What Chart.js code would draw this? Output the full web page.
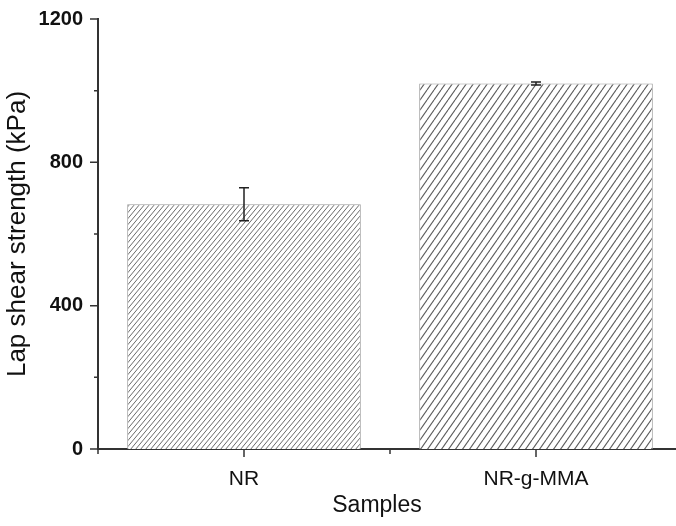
<!DOCTYPE html>
<html><head><meta charset="utf-8">
<script src="https://cdn.jsdelivr.net/npm/chart.js@4"></script>
<style>
html,body{margin:0;padding:0;background:#fff;overflow:hidden;width:676px;height:526px}
#wrap{width:682px;height:526px}
</style></head>
<body><div id="wrap"><canvas id="c" width="682" height="526"></canvas></div>
<script>
const categories = ['NR', 'NR-g-MMA'];
const strengths = [683, 1020];
const errors = [46, 4];
const yMajorTicks = [0, 400, 800, 1200];
const yMinorTicks = [200, 600, 1000];
const xMinorTicks = [-0.5, 0.5];
const yTitle = 'Lap shear strength (kPa)';
const xTitle = 'Samples';

const FONT = "'Liberation Sans', Arial, Helvetica, sans-serif";
const canvas = document.getElementById('c');
const ctx0 = canvas.getContext('2d');

function hatch(period, rise, color, lw) {
  const t = document.createElement('canvas');
  t.width = period; t.height = rise;
  const g = t.getContext('2d');
  g.fillStyle = '#fff'; g.fillRect(0, 0, period, rise);
  g.strokeStyle = color; g.lineWidth = lw;
  for (const dx of [-period, 0, period]) {
    g.beginPath(); g.moveTo(dx, rise); g.lineTo(dx + period, 0); g.stroke();
  }
  return ctx0.createPattern(t, 'repeat');
}

const decor = {
  id: 'decor',
  afterDatasetsDraw(chart) {
    const { ctx, scales: { y } } = chart;
    const meta = chart.getDatasetMeta(0);
    ctx.save();
    ctx.strokeStyle = '#222'; ctx.lineWidth = 1.5;
    meta.data.forEach((bar, i) => {
      const v = strengths[i], e = errors[i];
      const yt = y.getPixelForValue(v + e), yb = y.getPixelForValue(v - e);
      const cx = bar.x, hw = 5;
      ctx.beginPath();
      ctx.moveTo(cx, yt); ctx.lineTo(cx, yb);
      ctx.moveTo(cx - hw, yt); ctx.lineTo(cx + hw, yt);
      ctx.moveTo(cx - hw, yb); ctx.lineTo(cx + hw, yb);
      ctx.stroke();
    });
    ctx.restore();
  },
  afterDraw(chart) {
    const { ctx, chartArea: a, scales: { x, y } } = chart;
    ctx.save();
    ctx.strokeStyle = '#333'; ctx.lineWidth = 1.5;
    ctx.beginPath();
    yMajorTicks.forEach(v => { const p = y.getPixelForValue(v); ctx.moveTo(a.left - 8, p); ctx.lineTo(a.left, p); });
    yMinorTicks.forEach(v => { const p = y.getPixelForValue(v); ctx.moveTo(a.left - 4, p); ctx.lineTo(a.left, p); });
    categories.forEach((c, i) => { const p = x.getPixelForValue(i); ctx.moveTo(p, a.bottom); ctx.lineTo(p, a.bottom + 8); });
    xMinorTicks.forEach(v => { const p = x.getPixelForValue(v); ctx.moveTo(p, a.bottom); ctx.lineTo(p, a.bottom + 5); });
    ctx.stroke();
    ctx.fillStyle = '#111';
    ctx.font = '23px ' + FONT;
    ctx.textAlign = 'center'; ctx.textBaseline = 'middle';
    ctx.fillText(xTitle, 377, 506);
    ctx.restore();
  }
};

new Chart(canvas, {
  type: 'bar',
  data: {
    labels: categories,
    datasets: [{
      data: strengths,
      backgroundColor: [hatch(5, 6, '#6a6a6a', 1.0), hatch(7, 10, '#5a5a5a', 1.1)],
      borderColor: '#9a9a9a',
      borderWidth: 1,
      barPercentage: 0.8,
      categoryPercentage: 1.0
    }]
  },
  options: {
    responsive: false,
    animation: false,
    events: [],
    layout: { padding: { top: 13, left: 0, right: 0, bottom: 0 } },
    plugins: { legend: { display: false }, tooltip: { enabled: false } },
    scales: {
      x: {
        offset: true,
        grid: { display: false },
        border: { display: true, color: '#333', width: 2 },
        ticks: { font: { family: FONT, size: 21 }, color: '#111', padding: 10 },
        afterFit(s) { s.height = 77; }
      },
      y: {
        min: 0, max: 1200,
        grid: { display: false },
        border: { display: true, color: '#333', width: 2 },
        afterBuildTicks(s) { s.ticks = yMajorTicks.map(v => ({ value: v })); },
        ticks: { font: { family: FONT, size: 20, weight: 'bold' }, color: '#111', padding: 7,
                 callback: v => String(v) },
        title: { display: true, text: yTitle, font: { family: FONT, size: 26 }, color: '#111', padding: { top: 2, bottom: 2 } },
        afterFit(s) { s.width = 98; }
      }
    }
  },
  plugins: [decor]
});
</script>
</body></html>
